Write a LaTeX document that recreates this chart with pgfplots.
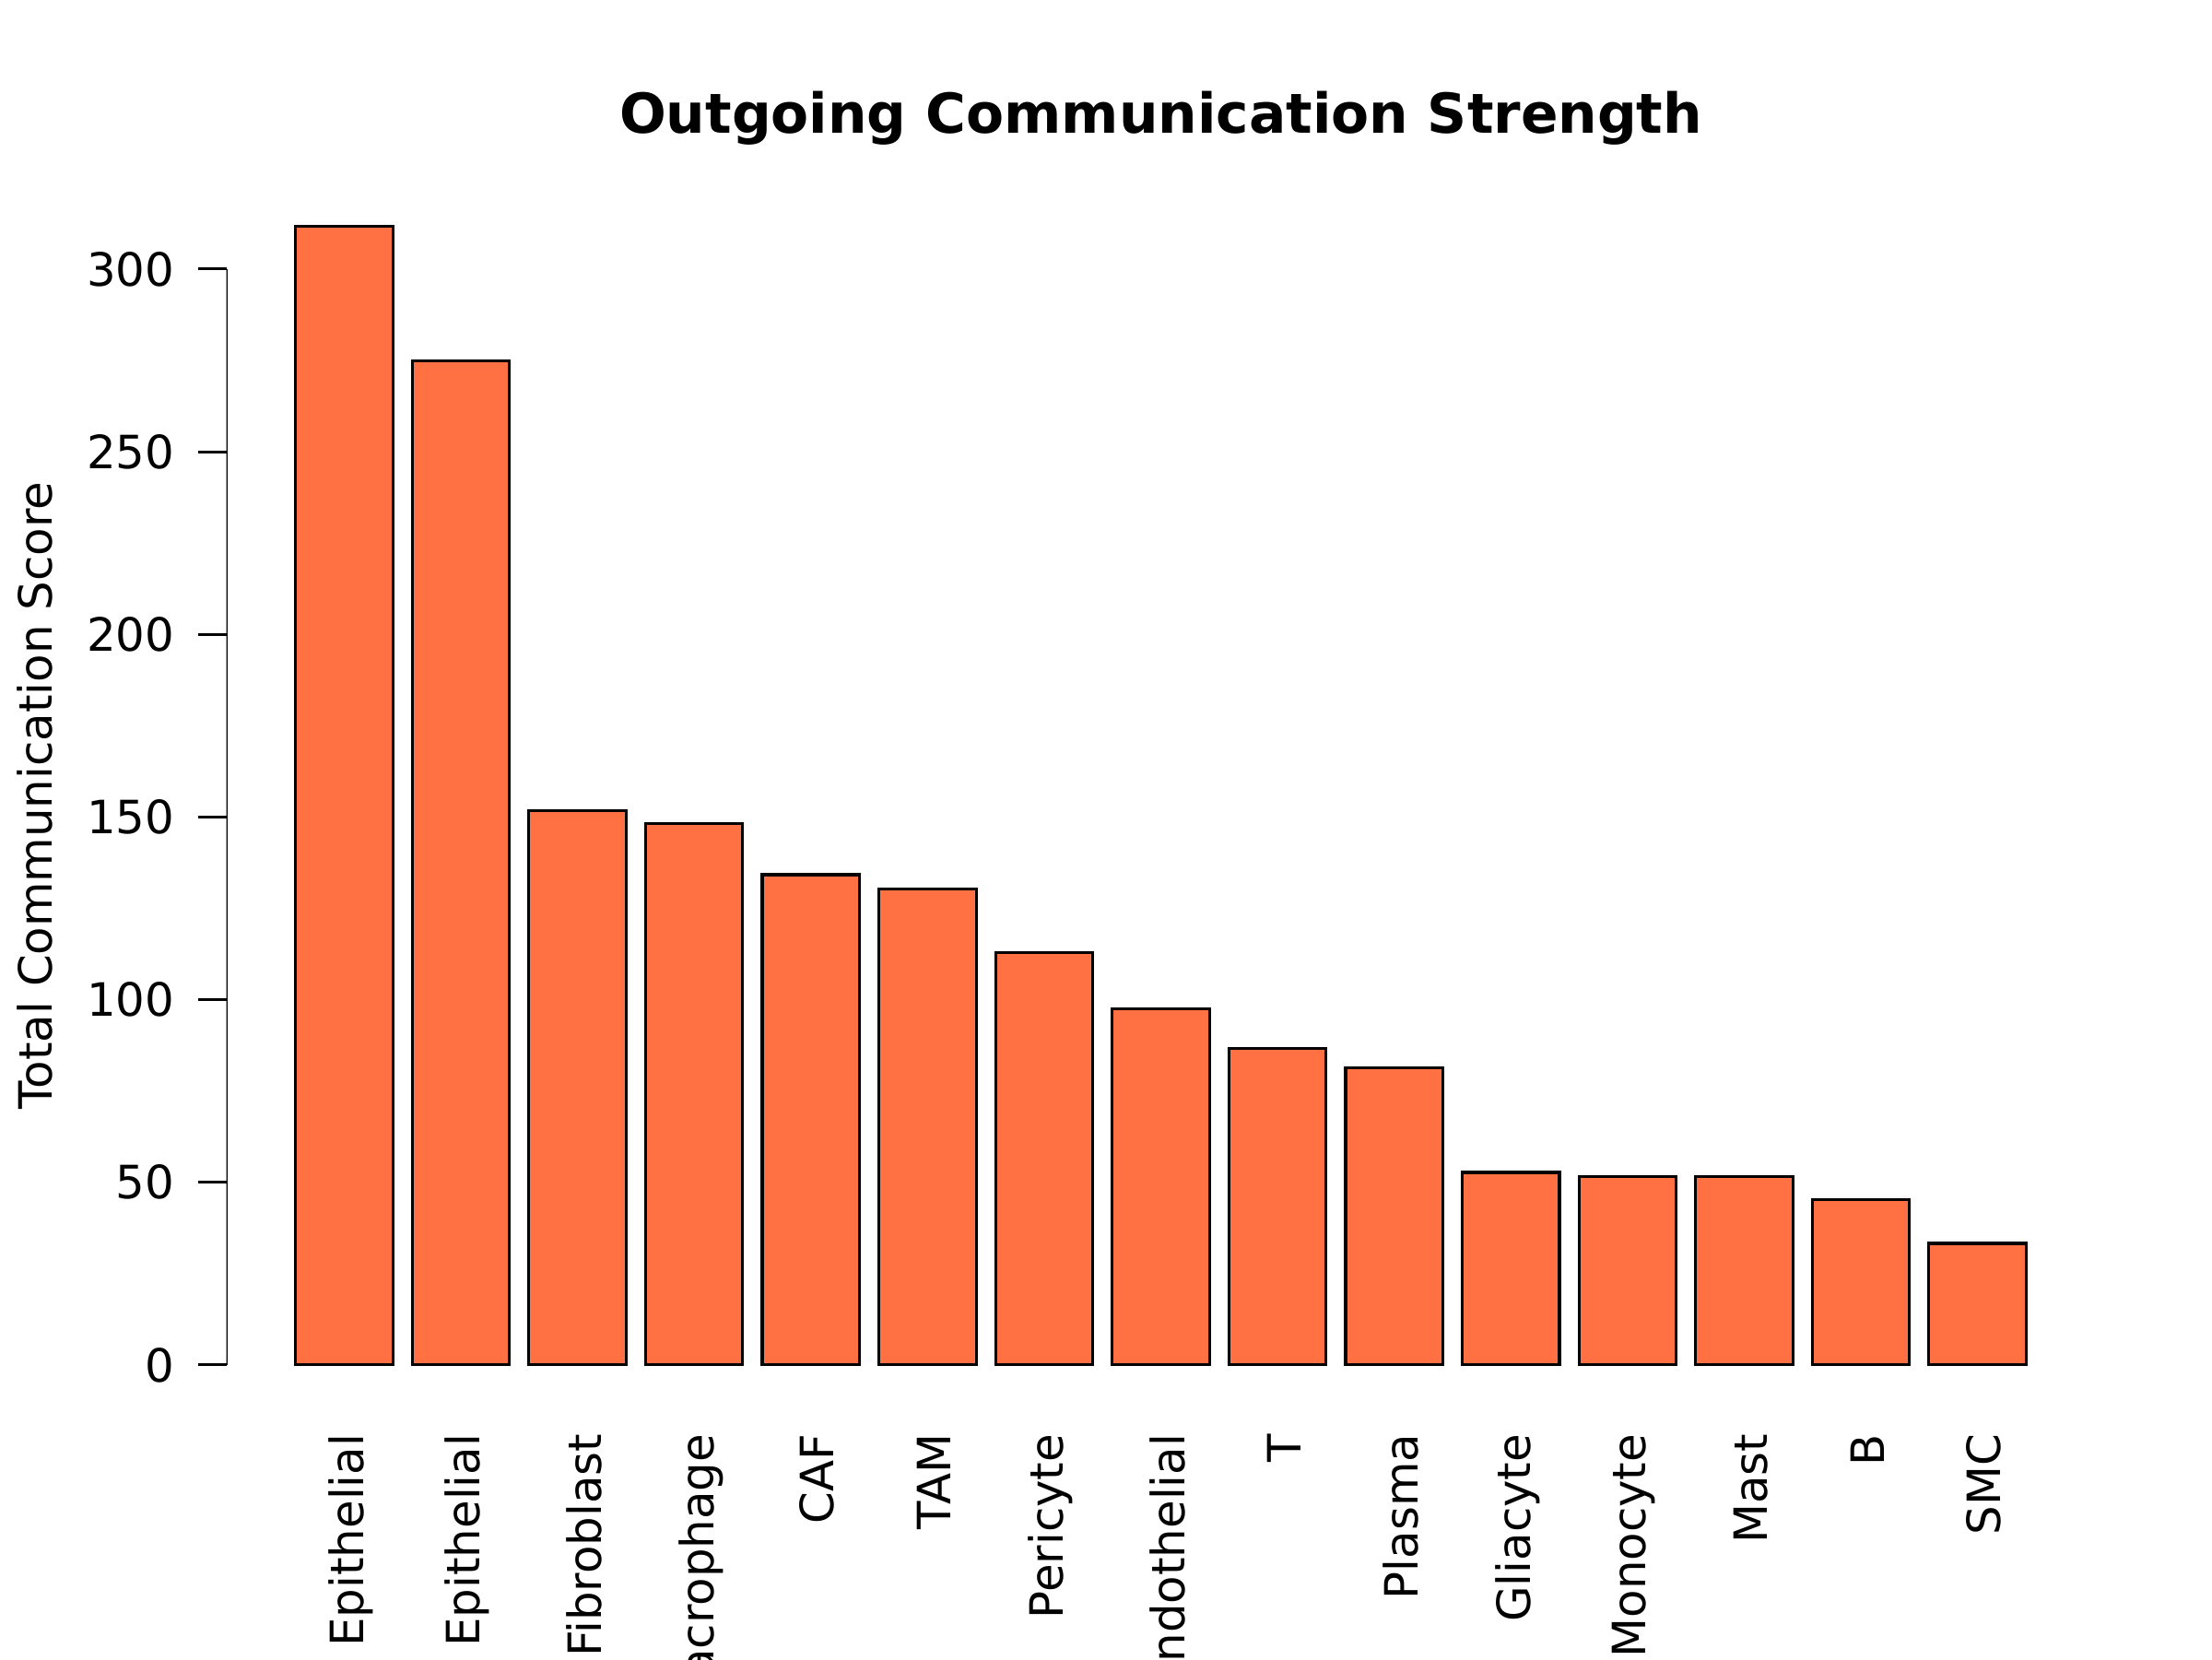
\documentclass[border=0pt]{standalone}
\usepackage{fontspec}
\setmainfont{DejaVu Sans}
\usepackage{pgfplots}
\pgfplotsset{compat=1.18}

\definecolor{barcol}{HTML}{FF7043}
\newcommand{\twelve}{\fontsize{12}{14}\selectfont}

\begin{document}
\begin{tikzpicture}
  \useasboundingbox (0,0) rectangle (20.32cm,15.24cm);
  \clip (0,0) rectangle (20.32cm,15.24cm);
  \begin{axis}[
      at={(2.079cm,2.283cm)},
      anchor=south west,
      scale only axis,
      width=17.17cm,
      height=11.30cm,
      xmin=-0.512, xmax=18.712,
      ymin=-12.47, ymax=324.27,
      axis line style={draw=none},
      ytick={0,50,...,300},
      ytick pos=left,
      tick align=outside,
      major tick length=0.262cm,
      major tick style={black, line width=0.75pt},
      major x tick style={draw=none},
      xtick={0.7,1.9,...,17.5},
      xticklabels={Epithelial,Epithelial,Fibroblast,Macrophage,CAF,TAM,Pericyte,Endothelial,T,Plasma,Gliacyte,Monocyte,Mast,B,SMC},
      % rotated labels: xshift runs up the page, yshift runs left
      xticklabel style={rotate=90, anchor=east, font=\twelve, xshift=0.17cm, yshift=-0.06cm},
      yticklabel style={font=\twelve, xshift=-0.09cm},
      /pgf/number format/assume math mode=true,
      ylabel={Total Communication Score},
      every axis y label/.style={at={(rel axis cs:0,0.5)}, xshift=-1.76cm, rotate=90, anchor=center, font=\twelve},
      title={\textbf{Outgoing Communication Strength}},
      every axis title/.style={at={(rel axis cs:0.5,1)}, anchor=base, yshift=0.43cm, font=\fontsize{14.4}{17}\selectfont},
    ]
    \addplot[ybar, bar width=1, fill=barcol, draw=black, line width=0.75pt]
      coordinates {(0.7,311.8) (1.9,274.9) (3.1,151.7) (4.3,148.2) (5.5,134.2)
                   (6.7,130.3) (7.9,112.9) (9.1,97.5) (10.3,86.6) (11.5,81.3)
                   (12.7,52.7) (13.9,51.5) (15.1,51.5) (16.3,45.2) (17.5,33.3)};
    \draw[line width=0.75pt] (axis cs:-0.512,0) -- (axis cs:-0.512,300);
  \end{axis}
\end{tikzpicture}
\end{document}
